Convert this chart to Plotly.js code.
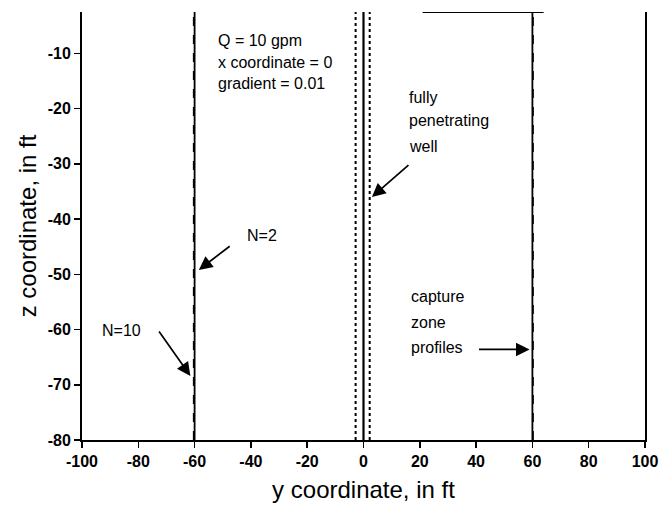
<!DOCTYPE html>
<html><head><meta charset="utf-8">
<script src="https://cdn.plot.ly/plotly-3.0.1.min.js"></script>
<style>html,body{margin:0;padding:0;background:#fff;}</style>
</head><body>
<div id="chart" style="width:665px;height:510px;"></div>
<script>
// Data
const zProfile = [-80, -2.5];              // vertical extent of profiles (z, ft)
const captureN2Left = [-60, -60];           // N=2 capture zone edge (y, ft)
const captureN2Right = [60, 60];
const captureN10Left = [-60.4, -60.4];      // N=10 capture zone edge (y, ft)
const captureN10Right = [60.3, 60.3];
const wellCenter = [0, 0];                  // fully penetrating well axis
const wellScreenLeft = [-2.8, -2.8];        // dotted well boundary
const wellScreenRight = [2.2, 2.2];
const xTicks = [-100, -80, -60, -40, -20, 0, 20, 40, 60, 80, 100];
const yTicks = [-80, -70, -60, -50, -40, -30, -20, -10];

const FONT = 'Liberation Sans, Arial, sans-serif';
const solid = {color: '#000', width: 1.8};
const dotted = {color: '#000', width: 2, dash: 'dot'};

const traces = [
  {x: captureN2Left, y: zProfile, mode: 'lines', line: solid, name: 'N=2'},
  {x: captureN2Right, y: zProfile, mode: 'lines', line: solid, name: 'N=2'},
  {x: captureN10Left, y: zProfile, mode: 'lines', line: {color:'#000', width:1.2, dash:'dash'}, name: 'N=10'},
  {x: captureN10Right, y: zProfile, mode: 'lines', line: {color:'#000', width:1.2, dash:'dash'}, name: 'N=10'},
  {x: wellCenter, y: zProfile, mode: 'lines', line: {color:'#000', width:2.2}, name: 'well'},
  {x: wellScreenLeft, y: zProfile, mode: 'lines', line: dotted, name: 'well'},
  {x: wellScreenRight, y: zProfile, mode: 'lines', line: dotted, name: 'well'}
];

const tf = {family: FONT, size: 16, color: '#000', weight: 'bold'};
function note(x, y, text, extra) {
  return Object.assign({x: x, y: y, xref: 'x', yref: 'y', text: text, showarrow: false,
    xanchor: 'left', yanchor: 'middle', align: 'left', font: {family: FONT, size: 16, color: '#000'}}, extra || {});
}
function arrow(x, y, ax, ay) {
  return {x: x, y: y, ax: ax, ay: ay, xref: 'x', yref: 'y', axref: 'x', ayref: 'y', text: '',
    showarrow: true, arrowhead: 2, arrowsize: 1.6, arrowwidth: 1.7, arrowcolor: '#000'};
}

const layout = {
  width: 665, height: 510,
  margin: {l: 82, r: 20, t: 12, b: 70},
  paper_bgcolor: '#fff', plot_bgcolor: '#fff',
  showlegend: false,
  xaxis: {
    range: [-100, 100], tickvals: xTicks, ticktext: xTicks.map(String),
    showgrid: false, zeroline: false, showline: true, linecolor: '#000', linewidth: 2,
    ticks: 'outside', ticklen: 6, tickwidth: 1.5, tickcolor: '#000',
    tickfont: tf,
    title: {text: 'y coordinate, in ft', font: {family: FONT, size: 24, color: '#000'}, standoff: 12}
  },
  yaxis: {
    range: [-80, -2.5], tickvals: yTicks, ticktext: yTicks.map(String),
    showgrid: false, zeroline: false, showline: true, mirror: true, linecolor: '#000', linewidth: 2,
    ticks: 'outside', ticklen: 6, tickwidth: 1.5, tickcolor: '#000',
    tickfont: tf,
    title: {text: 'z coordinate, in ft', font: {family: FONT, size: 24, color: '#000'}, standoff: 4}
  },
  shapes: [
    {type: 'line', xref: 'x', yref: 'y', x0: 21, x1: 64, y0: -2.5, y1: -2.5, line: {color: '#000', width: 2}}
  ],
  annotations: [
    note(-52.5, -7.6, 'Q = 10 gpm'),
    note(-52.5, -11.6, 'x coordinate = 0'),
    note(-52.5, -15.5, 'gradient = 0.01'),
    note(15.5, -17.9, 'fully'),
    note(15.5, -22.2, 'penetrating'),
    note(15.5, -26.8, 'well'),
    arrow(3, -36, 16.5, -30),
    note(-42, -42.9, 'N=2'),
    arrow(-58.5, -49.2, -47, -44.7),
    note(-93.5, -60.1, 'N=10'),
    arrow(-61.5, -68.4, -73, -60.1),
    note(16, -54.1, 'capture'),
    note(16, -58.7, 'zone'),
    note(16, -63.2, 'profiles'),
    arrow(59, -63.6, 40.5, -63.6)
  ]
};

Plotly.newPlot('chart', traces, layout, {displayModeBar: false, staticPlot: true});
</script>
</body></html>
